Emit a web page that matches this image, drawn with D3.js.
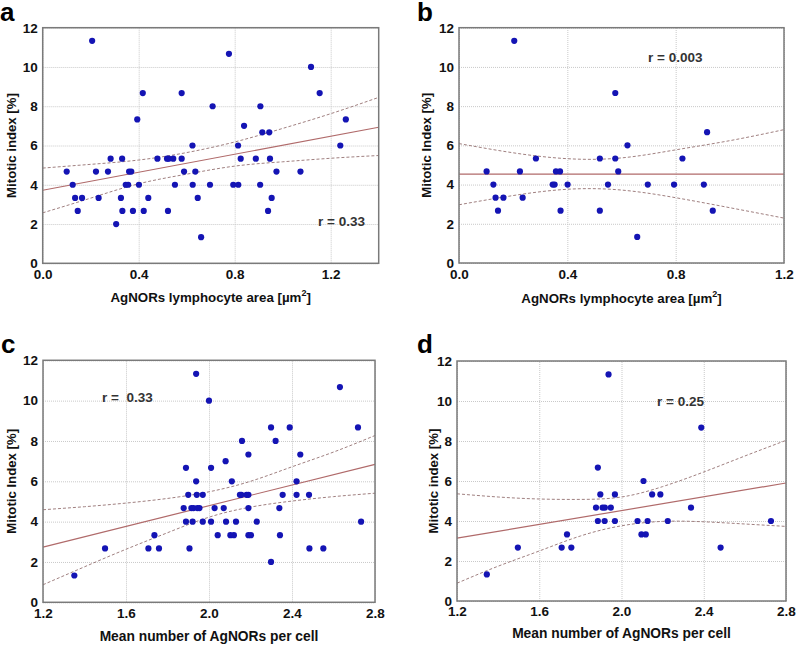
<!DOCTYPE html>
<html>
<head>
<meta charset="utf-8">
<script src="https://cdn.jsdelivr.net/npm/d3@7"></script>
<style>
  body { margin: 0; background: #fff; }
  svg { display: block; font-family: "Liberation Sans", Arial, sans-serif; }
</style>
</head>
<body>
<div id="chart"></div>
<script>

// panel a: AgNORs lymphocyte area vs mitotic index
const pointsA = [[0.206,11.33],[0.10,4.67],[0.125,4.0],[0.135,3.33],[0.146,2.67],[0.164,3.33],[0.222,4.67],[0.233,3.33],
  [0.272,4.67],[0.283,5.33],[0.306,2.0],[0.326,3.33],[0.331,5.33],[0.332,2.67],[0.346,4.0],[0.356,4.0],[0.36,4.67],
  [0.369,4.67],[0.376,2.67],[0.394,7.33],[0.401,4.0],[0.417,8.67],[0.421,2.67],[0.44,3.33],[0.478,5.33],[0.518,5.33],
  [0.522,2.67],[0.525,5.33],[0.544,5.33],[0.551,4.0],[0.579,8.67],[0.579,5.33],[0.589,4.67],[0.624,6.0],[0.625,4.0],
  [0.636,4.67],[0.646,3.33],[0.66,1.33],[0.697,4.0],[0.708,8.0],[0.776,10.67],[0.794,4.0],[0.814,6.0],[0.815,4.0],
  [0.825,5.33],[0.839,7.0],[0.888,5.33],[0.906,4.0],[0.907,8.0],[0.915,6.67],[0.939,2.67],[0.944,6.67],[0.947,5.33],
  [0.954,3.33],[0.974,4.67],[1.074,4.67],[1.118,10.0],[1.154,8.67],[1.24,6.0],[1.263,7.33]];
const fitA = [[0, 3.72], [1.4, 6.93]];
const bandXA = [0, 0.2, 0.4, 0.6, 0.8, 1.0, 1.2, 1.4];
const upperA = [4.85, 5.04, 5.26, 5.64, 6.18, 6.87, 7.62, 8.45];
const lowerA = [2.57, 3.32, 4.05, 4.54, 4.95, 5.17, 5.35, 5.49];

// panel b
const pointsB = [[0.204,11.33],[0.102,4.67],[0.127,4.0],[0.135,3.33],[0.164,3.33],[0.144,2.67],[0.225,4.67],[0.235,3.33],
  [0.284,5.33],[0.346,4.0],[0.353,4.0],[0.358,4.67],[0.373,4.67],[0.375,2.67],[0.401,4.0],[0.52,5.33],[0.52,2.67],
  [0.55,4.0],[0.577,8.67],[0.577,5.33],[0.588,4.67],[0.622,6.0],[0.658,1.33],[0.697,4.0],[0.794,4.0],[0.825,5.33],
  [0.904,4.0],[0.916,6.67],[0.937,2.67]];
const fitB = [[0, 4.53], [1.2, 4.53]];
const bandXB = [0, 0.2, 0.4, 0.6, 0.8, 1.0, 1.2];
const upperB = [6.09, 5.62, 5.32, 5.36, 5.77, 6.24, 6.8];
const lowerB = [2.97, 3.44, 3.76, 3.72, 3.33, 2.82, 2.29];

// panel c: mean number of AgNORs per cell
const pointsC = [[1.351,1.33],[1.499,2.67],[1.708,2.67],[1.737,3.33],[1.759,2.67],[1.878,4.67],[1.889,6.67],[1.889,4.0],
  [1.9,5.33],[1.906,2.67],[1.915,4.67],[1.921,4.0],[1.925,4.67],[1.938,11.33],[1.938,6.0],[1.941,5.33],[1.944,4.67],
  [1.954,4.67],[1.97,5.33],[1.97,4.0],[2.0,10.0],[2.01,6.67],[2.01,4.0],[2.027,4.67],[2.042,3.33],[2.071,4.67],
  [2.08,7.0],[2.082,4.0],[2.103,3.33],[2.11,6.0],[2.12,3.33],[2.13,4.0],[2.149,5.33],[2.156,5.33],[2.159,8.0],
  [2.181,5.33],[2.19,7.33],[2.19,5.33],[2.19,4.67],[2.19,3.33],[2.202,3.33],[2.23,4.0],[2.299,8.67],[2.299,2.0],
  [2.321,8.0],[2.339,4.67],[2.342,3.33],[2.355,5.33],[2.389,8.67],[2.422,6.0],[2.422,5.33],[2.44,7.33],[2.482,5.33],
  [2.484,2.67],[2.551,2.67],[2.631,10.67],[2.718,8.67],[2.733,4.0]];
const fitC = [[1.2, 2.74], [2.8, 6.84]];
const bandXC = [1.2, 1.4, 1.6, 1.8, 2.0, 2.2, 2.4, 2.6, 2.8];
const upperC = [4.59, 4.74, 4.92, 5.15, 5.48, 6.0, 6.72, 7.45, 8.27];
const lowerC = [0.87, 1.76, 2.63, 3.45, 4.22, 4.72, 5.02, 5.24, 5.41];

// panel d
const pointsD = [[1.345,1.33],[1.496,2.67],[1.709,2.67],[1.735,3.33],[1.756,2.67],[1.876,4.67],[1.885,4.0],[1.885,6.67],
  [1.897,5.33],[1.908,4.67],[1.919,4.67],[1.918,4.0],[1.937,11.33],[1.948,4.67],[1.968,5.33],[1.968,4.0],[2.078,4.0],
  [2.097,3.33],[2.118,3.33],[2.107,6.0],[2.127,4.0],[2.149,5.33],[2.189,5.33],[2.225,4.0],[2.338,4.67],[2.388,8.67],
  [2.482,2.67],[2.727,4.0]];
const fitD = [[1.2, 3.14], [2.8, 5.9]];
const bandXD = [1.2, 1.4, 1.6, 1.8, 2.0, 2.2, 2.4, 2.6, 2.8];
const upperD = [5.36, 5.2, 5.1, 5.08, 5.2, 5.72, 6.45, 7.25, 8.03];
const lowerD = [0.89, 1.74, 2.5, 3.25, 3.76, 3.98, 3.96, 3.85, 3.73];

const yTicks = [0, 2, 4, 6, 8, 10, 12];
const areaTicks = [0.0, 0.4, 0.8, 1.2];
const numberTicks = [1.2, 1.6, 2.0, 2.4, 2.8];

const svg = d3.select('#chart')
  .append('svg')
  .attr('width', 796)
  .attr('height', 645);

function drawPanel(p) {
  const x = d3.scaleLinear().domain(p.xDomain).range([p.left, p.right]);
  const y = d3.scaleLinear().domain([0, 12]).range([p.bottom, p.top]);
  const g = svg.append('g');

  // grid
  g.append('g')
    .attr('transform', `translate(0,${p.bottom})`)
    .call(d3.axisBottom(x).tickValues(p.xTicks).tickSize(-(p.bottom - p.top)).tickFormat(''))
    .call(s => s.select('.domain').remove())
    .call(s => s.selectAll('line').attr('stroke', '#c9c9c9').attr('stroke-dasharray', '1,1'));
  g.append('g')
    .attr('transform', `translate(${p.left},0)`)
    .call(d3.axisLeft(y).tickValues(yTicks).tickSize(-(p.right - p.left)).tickFormat(''))
    .call(s => s.select('.domain').remove())
    .call(s => s.selectAll('line').attr('stroke', '#c9c9c9').attr('stroke-dasharray', '1,1'));

  // tick labels
  const xAxis = g.append('g')
    .attr('transform', `translate(0,${p.bottom})`)
    .call(d3.axisBottom(x).tickValues(p.xTicks).tickSize(0).tickPadding(p.xPad).tickFormat(d3.format('.1f')));
  xAxis.select('.domain').remove();
  xAxis.selectAll('text').attr('font-size', 13.5).attr('font-weight', 'bold').attr('fill', '#111')
    .attr('font-family', '"Liberation Sans", Arial, sans-serif');

  const yAxis = g.append('g')
    .attr('transform', `translate(${p.left},0)`)
    .call(d3.axisLeft(y).tickValues(yTicks).tickSize(0).tickPadding(p.yPad));
  yAxis.select('.domain').remove();
  yAxis.selectAll('text').attr('font-size', 13.5).attr('font-weight', 'bold').attr('fill', '#111')
    .attr('font-family', '"Liberation Sans", Arial, sans-serif');

  // confidence bands
  const band = d3.line().curve(d3.curveNatural).x(d => x(d[0])).y(d => y(d[1]));
  [p.upper, p.lower].forEach(vals => {
    g.append('path')
      .datum(p.bandX.map((v, i) => [v, vals[i]]))
      .attr('d', band)
      .attr('fill', 'none')
      .attr('stroke', '#a08080')
      .attr('stroke-width', 1)
      .attr('stroke-dasharray', '3,2');
  });

  // fit line
  g.append('path')
    .datum(p.fit)
    .attr('d', d3.line().x(d => x(d[0])).y(d => y(d[1])))
    .attr('stroke', '#b06a6a')
    .attr('stroke-width', 1.2)
    .attr('fill', 'none');

  // points
  g.append('g')
    .selectAll('circle')
    .data(p.points)
    .enter()
    .append('circle')
    .attr('cx', d => x(d[0]))
    .attr('cy', d => y(d[1]))
    .attr('r', 3.1)
    .attr('fill', '#1414b4');

  // frame
  g.append('rect')
    .attr('x', p.left)
    .attr('y', p.top)
    .attr('width', p.right - p.left)
    .attr('height', p.bottom - p.top)
    .attr('fill', 'none')
    .attr('stroke', '#7a7a7a')
    .attr('stroke-width', 1.5);

  // r value
  g.append('text')
    .attr('x', p.rPos[0])
    .attr('y', p.rPos[1])
    .attr('font-size', 13.5)
    .attr('font-weight', 'bold')
    .attr('fill', '#333')
    .attr('xml:space', 'preserve')
    .text(p.rText);

  // panel letter
  g.append('text')
    .attr('x', p.letterPos[0])
    .attr('y', p.letterPos[1])
    .attr('font-size', 26)
    .attr('font-weight', 'bold')
    .attr('fill', '#000')
    .text(p.letter);

  // y title
  g.append('text')
    .attr('transform', `translate(${p.yTitleX},${(p.top + p.bottom) / 2}) rotate(-90)`)
    .attr('text-anchor', 'middle')
    .attr('dy', '0.35em')
    .attr('font-size', 13.2)
    .attr('font-weight', 'bold')
    .attr('fill', '#111')
    .text(p.yTitle);

  // x title
  const xt = g.append('text')
    .attr('x', (p.left + p.right) / 2)
    .attr('y', p.xTitleY)
    .attr('text-anchor', 'middle')
    .attr('font-size', p.xTitleSize)
    .attr('font-weight', 'bold')
    .attr('fill', '#111');
  if (p.sup) {
    xt.append('tspan').text(p.xTitle);
    xt.append('tspan').attr('font-size', 9).attr('dy', -6).text('2');
    xt.append('tspan').attr('dy', 6).text(']');
  } else {
    xt.text(p.xTitle);
  }
}

drawPanel({
  letter: 'a', letterPos: [0, 21], left: 42.7, right: 378.7, top: 27.7, bottom: 263.3,
  xDomain: [0, 1.4], xTicks: areaTicks, xPad: 6, yPad: 5,
  points: pointsA, fit: fitA, bandX: bandXA, upper: upperA, lower: lowerA,
  rText: 'r = 0.33', rPos: [318, 226], yTitle: 'Mitotic index [%]', yTitleX: 11,
  xTitle: 'AgNORs lymphocyte area [µm', sup: true, xTitleY: 302, xTitleSize: 13.3
});
drawPanel({
  letter: 'b', letterPos: [417, 21], left: 459, right: 784, top: 27.7, bottom: 263,
  xDomain: [0, 1.2], xTicks: areaTicks, xPad: 6, yPad: 5,
  points: pointsB, fit: fitB, bandX: bandXB, upper: upperB, lower: lowerB,
  rText: 'r = 0.003', rPos: [648, 62], yTitle: 'Mitotic Index [%]', yTitleX: 426,
  xTitle: 'AgNORs lymphocyte area [µm', sup: true, xTitleY: 303, xTitleSize: 13.3
});
drawPanel({
  letter: 'c', letterPos: [1, 353], left: 43, right: 375, top: 360.3, bottom: 602.3,
  xDomain: [1.2, 2.8], xTicks: numberTicks, xPad: 6, yPad: 5,
  points: pointsC, fit: fitC, bandX: bandXC, upper: upperC, lower: lowerC,
  rText: 'r =  0.33', rPos: [102, 402], yTitle: 'Mitotic Index [%]', yTitleX: 11,
  xTitle: 'Mean number of AgNORs per cell', sup: false, xTitleY: 641, xTitleSize: 13.8
});
drawPanel({
  letter: 'd', letterPos: [417, 353], left: 457, right: 786, top: 361, bottom: 601,
  xDomain: [1.2, 2.8], xTicks: numberTicks, xPad: 5, yPad: 5,
  points: pointsD, fit: fitD, bandX: bandXD, upper: upperD, lower: lowerD,
  rText: 'r = 0.25', rPos: [657, 406], yTitle: 'Mitotic index [%]', yTitleX: 433,
  xTitle: 'Mean number of AgNORs per cell', sup: false, xTitleY: 638, xTitleSize: 13.8
});

</script>
</body>
</html>
